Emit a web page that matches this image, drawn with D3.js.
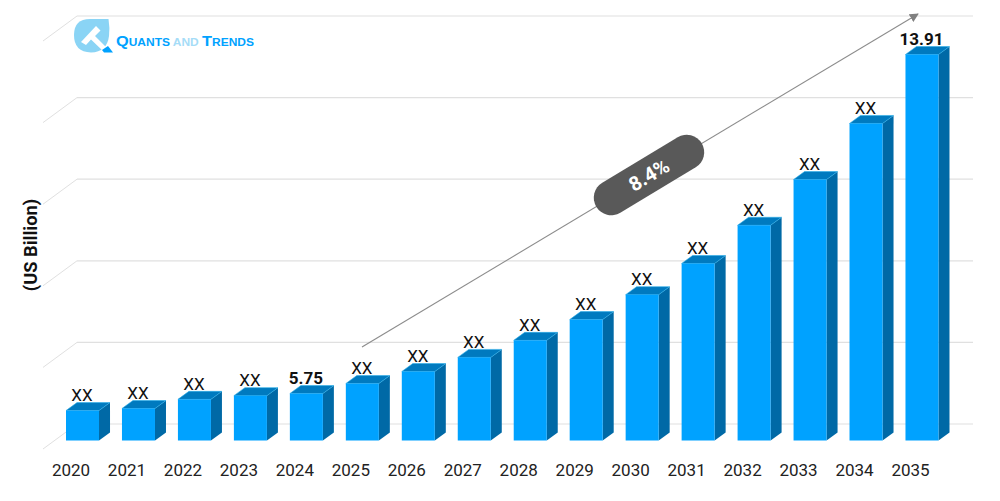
<!DOCTYPE html>
<html>
<head>
<meta charset="utf-8">
<script src="https://cdn.jsdelivr.net/npm/d3@7/dist/d3.min.js"></script>
<style>
  html, body { margin: 0; padding: 0; background: #fff; }
  svg { display: block; }
  text { font-family: Roboto, sans-serif; }
</style>
</head>
<body>
<div id="chart"></div>
<script>
const years = ['2020','2021','2022','2023','2024','2025','2026','2027','2028','2029','2030','2031','2032','2033','2034','2035']
const values = [5.34,5.39,5.61,5.70,5.75,5.99,6.28,6.62,7.03,7.53,8.13,8.88,9.80,10.90,12.25,13.91]
const labels = ['XX','XX','XX','XX','5.75','XX','XX','XX','XX','XX','XX','XX','XX','XX','XX','13.91']
const gridSteps = [0,1,2,3,4,5]
const cagr = '8.4%'
const yTitle = '(US Billion)'

const width = 1000, height = 501
const depthX = 11, depthY = 8

const svg = d3.select('#chart').append('svg')
    .attr('width', width)
    .attr('height', height)

const x = d3.scaleBand()
    .domain(years)
    .range([66, 938.5])
    .paddingInner(0.41)
    .paddingOuter(0)

const y = d3.scaleLinear()
    .domain([4.62, 13.91])
    .range([440.5, 54.5])

const grid = d3.scaleLinear()
    .domain([0, 5])
    .range([424, 16])

// back wall lines and the slanted side wall
const wall = svg.append('g')
gridSteps.forEach(d => {
    wall.append('line')
        .attr('x1', 77).attr('x2', 973)
        .attr('y1', grid(d)).attr('y2', grid(d))
        .attr('stroke', '#e0e0e0')
        .attr('stroke-width', 1.2)
    wall.append('line')
        .attr('x1', 43).attr('x2', 77)
        .attr('y1', grid(d) + 25).attr('y2', grid(d))
        .attr('stroke', '#e0e0e0')
        .attr('stroke-width', 1)
})

// bars
const bars = svg.selectAll('.bar')
    .data(years)
    .enter()
    .append('g')
    .attr('class', 'bar')

bars.append('path')
    .attr('fill', '#0069a6')
    .attr('d', (d, i) => {
        let r = x(d) + x.bandwidth()
        return `M${r},${y(values[i])}l${depthX},${-depthY}L${r + depthX},${y.range()[0] - depthY}L${r},${y.range()[0]}Z`
    })

bars.append('path')
    .attr('fill', '#007abf')
    .attr('stroke', '#2aaeea')
    .attr('stroke-width', 0.6)
    .attr('d', (d, i) => {
        let l = x(d), t = y(values[i])
        return `M${l},${t}l${depthX},${-depthY}h${x.bandwidth()}l${-depthX},${depthY}Z`
    })

bars.append('rect')
    .attr('x', d => x(d))
    .attr('y', (d, i) => y(values[i]))
    .attr('width', x.bandwidth())
    .attr('height', (d, i) => y.range()[0] - y(values[i]))
    .attr('fill', '#00a2ff')

// value labels
svg.selectAll('.val')
    .data(labels)
    .enter()
    .append('text')
    .attr('class', 'val')
    .attr('x', (d, i) => x(years[i]) + x.bandwidth() / 2 - 0.5)
    .attr('y', (d, i) => y(values[i]) - 9.5)
    .attr('text-anchor', 'middle')
    .attr('font-size', 17)
    .attr('font-weight', d => d == 'XX' ? 400 : 700)
    .attr('fill', '#111')
    .text(d => d)

// year labels
svg.selectAll('.year')
    .data(years)
    .enter()
    .append('text')
    .attr('class', 'year')
    .attr('x', d => x(d) + x.bandwidth() / 2 - 11.5)
    .attr('y', 476)
    .attr('text-anchor', 'middle')
    .attr('font-size', 17)
    .attr('fill', '#222')
    .text(d => d)

svg.append('text')
    .attr('transform', 'translate(37,245) rotate(-90)')
    .attr('text-anchor', 'middle')
    .attr('font-size', 18.3)
    .attr('font-weight', 700)
    .attr('fill', '#111')
    .text(yTitle)

// growth arrow and pill
svg.append('defs').append('marker')
    .attr('id', 'arrow')
    .attr('viewBox', '0 0 10 10')
    .attr('refX', 9).attr('refY', 5)
    .attr('markerWidth', 9).attr('markerHeight', 9)
    .attr('markerUnits', 'userSpaceOnUse')
    .attr('orient', 'auto')
    .append('path')
    .attr('d', 'M0,0L10,5L0,10Z')
    .attr('fill', '#808080')

svg.append('line')
    .attr('x1', 362).attr('y1', 347)
    .attr('x2', 918).attr('y2', 14)
    .attr('stroke', '#8c8c8c')
    .attr('stroke-width', 1.1)
    .attr('marker-end', 'url(#arrow)')

const pill = svg.append('g')
    .attr('transform', 'translate(649,175) rotate(-31)')
pill.append('rect')
    .attr('x', -61.5).attr('y', -17.5)
    .attr('width', 123).attr('height', 35)
    .attr('rx', 17.5)
    .attr('fill', '#595959')
pill.append('text')
    .attr('y', 7)
    .attr('text-anchor', 'middle')
    .attr('font-size', 20)
    .attr('font-weight', 700)
    .attr('fill', '#fff')
    .text(cagr)

// logo
const logo = svg.append('g')
logo.append('path')
    .attr('d', 'M74,35 Q74,19 90,19 L108.5,19 Q110,28 109,36 Q107,52 91,52.5 Q74,52 74,35 Z')
    .attr('fill', '#8ad4f5')
logo.append('path')
    .attr('d', 'M81,42 L96,26 L100.5,30.5 L95,36 L107,48 L102.5,50.5 L91,39.5 L86,45 Z')
    .attr('fill', '#fff')
logo.append('path')
    .attr('d', 'M102,50 L108,46 L113,52.5 L104,52.5 Z')
    .attr('fill', '#00a2ff')

const logoText = svg.append('text')
    .attr('x', 116)
    .attr('y', 45.5)
    .attr('font-weight', 700)
    .attr('fill', '#00a2ff')
    .attr('textLength', 138)
    .attr('lengthAdjust', 'spacingAndGlyphs')
    .style('font-family', '"Liberation Sans", sans-serif')
logoText.append('tspan').attr('font-size', 15).text('Q')
logoText.append('tspan').attr('font-size', 11).text('UANTS ')
logoText.append('tspan').attr('font-size', 11).attr('fill', '#a5dcf7').text('AND ')
logoText.append('tspan').attr('font-size', 15).text('T')
logoText.append('tspan').attr('font-size', 11).text('RENDS')
</script>
</body>
</html>
